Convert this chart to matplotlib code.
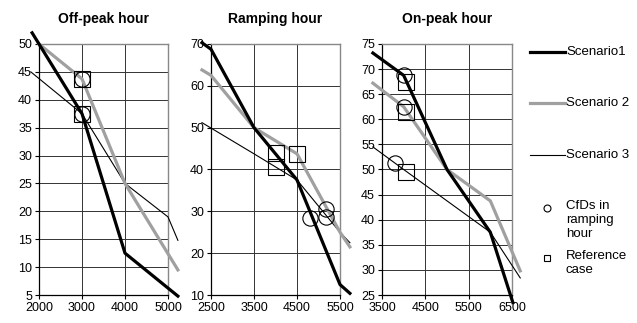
import matplotlib
matplotlib.use("Agg")
import matplotlib.pyplot as plt
from matplotlib.lines import Line2D

plt.rcParams["font.family"] = ["Liberation Sans", "DejaVu Sans"]
plt.rcParams["font.size"] = 9

# Off-peak hour
off_s1_x = [1840, 2000, 3000, 4000, 5230]
off_s1_y = [52.0, 50.0, 37.5, 12.5, 4.8]
off_s2_x = [2000, 3000, 4000, 5230]
off_s2_y = [50.0, 43.75, 25.0, 9.5]
off_s3_x = [1810, 3000, 4000, 5000, 5230]
off_s3_y = [45.0, 37.5, 25.0, 19.0, 14.8]
off_cfd_x = [3000, 3000]
off_cfd_y = [43.75, 37.5]
off_ref_x = [3000, 3000]
off_ref_y = [43.75, 37.5]

# Ramping hour
ramp_s1_x = [2290, 2500, 3500, 4500, 5500, 5730]
ramp_s1_y = [70.3, 68.75, 50.0, 37.5, 12.5, 10.4]
ramp_s2_x = [2290, 2500, 3500, 4500, 5500, 5730]
ramp_s2_y = [63.8, 62.5, 50.0, 43.75, 25.0, 21.5]
ramp_s3_x = [2290, 3500, 4500, 5500, 5730]
ramp_s3_y = [51.2, 43.75, 37.5, 25.0, 22.5]
ramp_cfd_x = [4800, 5175, 5175]
ramp_cfd_y = [28.4, 30.5, 28.6]
ramp_ref_x = [4000, 4000, 4500]
ramp_ref_y = [43.9, 40.6, 43.75]

# On-peak hour
on_s1_x = [3290, 4000, 5000, 6000, 6520]
on_s1_y = [73.2, 68.75, 50.0, 37.5, 23.5]
on_s2_x = [3290, 4000, 5000, 6000, 6690]
on_s2_y = [67.2, 62.5, 50.0, 43.75, 29.8]
on_s3_x = [3290, 4000, 6000, 6690]
on_s3_y = [54.5, 50.0, 37.5, 28.4]
on_cfd_x = [4000, 4000, 3800]
on_cfd_y = [68.75, 62.5, 51.25]
on_ref_x = [4050, 4050, 4050]
on_ref_y = [67.5, 61.5, 49.5]

W, H = 637, 323
fig = plt.figure(figsize=(W / 100, H / 100), dpi=100)

GRAY = "#a0a0a0"


def px_box(x0, x1, ytop, ybot):
    return [x0 / W, 1 - ybot / H, (x1 - x0) / W, (ybot - ytop) / H]


panels = [
    dict(box=px_box(39, 168, 44, 295), title="Off-peak hour",
         xlim=(2000, 5000), xt=[2000, 3000, 4000, 5000],
         ylim=(5, 50), yt=range(5, 51, 5),
         s1=(off_s1_x, off_s1_y), s2=(off_s2_x, off_s2_y), s3=(off_s3_x, off_s3_y),
         cfd=(off_cfd_x, off_cfd_y), ref=(off_ref_x, off_ref_y)),
    dict(box=px_box(211, 340, 44, 295), title="Ramping hour",
         xlim=(2500, 5500), xt=[2500, 3500, 4500, 5500],
         ylim=(10, 70), yt=range(10, 71, 10),
         s1=(ramp_s1_x, ramp_s1_y), s2=(ramp_s2_x, ramp_s2_y), s3=(ramp_s3_x, ramp_s3_y),
         cfd=(ramp_cfd_x, ramp_cfd_y), ref=(ramp_ref_x, ramp_ref_y)),
    dict(box=px_box(382, 512, 44, 295), title="On-peak hour",
         xlim=(3500, 6500), xt=[3500, 4500, 5500, 6500],
         ylim=(25, 75), yt=range(25, 76, 5),
         s1=(on_s1_x, on_s1_y), s2=(on_s2_x, on_s2_y), s3=(on_s3_x, on_s3_y),
         cfd=(on_cfd_x, on_cfd_y), ref=(on_ref_x, on_ref_y)),
]

for p in panels:
    ax = fig.add_axes(p["box"])
    ax.set_xlim(*p["xlim"])
    ax.set_ylim(*p["ylim"])
    ax.set_xticks(p["xt"])
    ax.set_yticks(list(p["yt"]))
    ax.grid(True, color="#333333", linewidth=0.7)
    ax.set_axisbelow(True)
    for side in ["top", "right"]:
        ax.spines[side].set_color("#888888")
        ax.spines[side].set_linewidth(1.0)
    for side in ["left", "bottom"]:
        ax.spines[side].set_color("black")
        ax.spines[side].set_linewidth(0.9)
    ax.tick_params(direction="out", length=3, width=0.8, labelsize=9, pad=2)
    ax.set_title(p["title"], fontsize=10, fontweight="bold", pad=15)

    ax.plot(*p["s3"], color="black", lw=0.8, clip_on=False, zorder=3)
    ax.plot(*p["s2"], color=GRAY, lw=2.3, clip_on=False, zorder=4)
    ax.plot(*p["s1"], color="black", lw=2.3, clip_on=False, zorder=5)
    ax.plot(*p["cfd"], ls="none", marker="o", ms=11, mfc="none", mec="black",
            mew=0.8, clip_on=False, zorder=6)
    ax.plot(*p["ref"], ls="none", marker="s", ms=11, mfc="none", mec="black",
            mew=0.8, clip_on=False, zorder=6)

# legend drawn at the right
def fx(x):
    return x / W


def fy(y):
    return 1 - y / H


legend_lines = [("Scenario1", "black", 2.3, 52),
                ("Scenario 2", GRAY, 2.3, 103),
                ("Scenario 3", "black", 0.8, 155)]
for label, col, lw, y in legend_lines:
    fig.add_artist(Line2D([fx(530), fx(565)], [fy(y), fy(y)], color=col, lw=lw))
    fig.text(fx(566), fy(y), label, va="center", ha="left", fontsize=9.5)

fig.add_artist(Line2D([fx(547)], [fy(208)], marker="o", ms=5, mfc="none",
                      mec="black", mew=0.8, ls="none"))
fig.text(fx(566), fy(200), "CfDs in\nramping\nhour", va="top", ha="left",
         fontsize=9.5, linespacing=1.2)
fig.add_artist(Line2D([fx(547)], [fy(258)], marker="s", ms=5, mfc="none",
                      mec="black", mew=0.8, ls="none"))
fig.text(fx(566), fy(250), "Reference\ncase", va="top", ha="left",
         fontsize=9.5, linespacing=1.2)

fig.savefig("out.png", dpi=100)
